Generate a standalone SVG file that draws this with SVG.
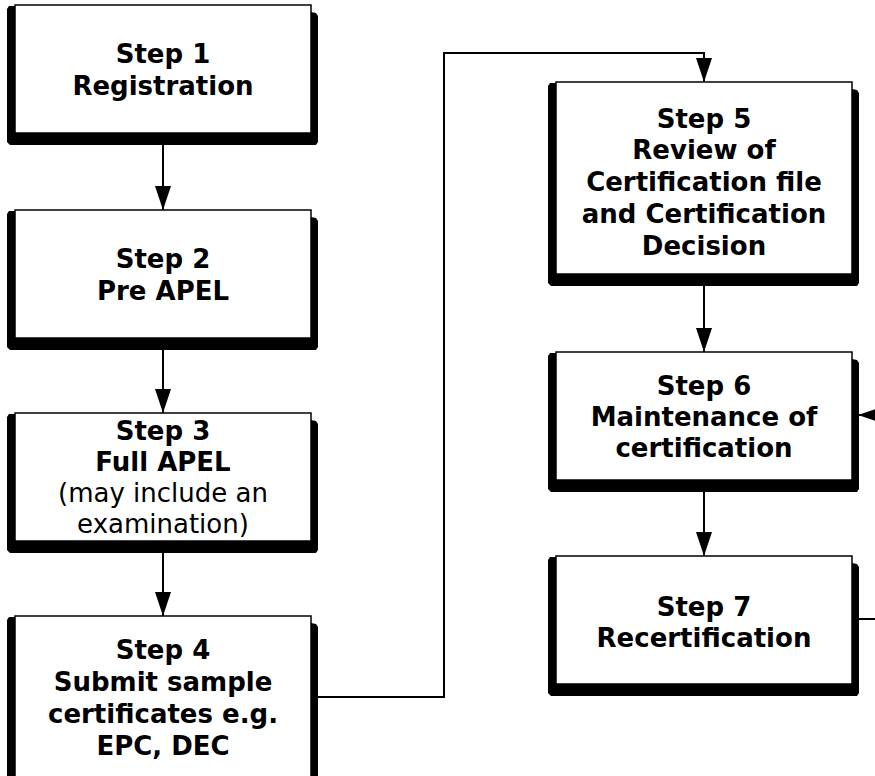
<svg xmlns="http://www.w3.org/2000/svg" width="875" height="776" viewBox="0 0 875 776">
<style>
.shadow{fill:#000}
.box{fill:#fff;stroke:#000;stroke-width:1.5}
.t{font-family:"DejaVu Sans","Verdana",sans-serif;font-size:26px;text-anchor:middle;fill:#000}
.b{font-weight:bold}
.conn{fill:none;stroke:#000;stroke-width:2}
</style>
<defs>
<marker id="arr" markerUnits="userSpaceOnUse" markerWidth="24" markerHeight="16" viewBox="0 0 24 16" refX="24" refY="8" orient="auto">
<path d="M0,0 L24,8 L0,16 z" fill="#000"/>
</marker>
</defs>
<rect width="875" height="776" fill="#fff"/>
<g id="connectors">
<path class="conn" d="M163,140 V210" marker-end="url(#arr)"/>
<path class="conn" d="M163,345 V413" marker-end="url(#arr)"/>
<path class="conn" d="M163,548 V616" marker-end="url(#arr)"/>
<path class="conn" d="M311,697 H444 V53 H704 V82" marker-end="url(#arr)"/>
<path class="conn" d="M704,281 V352" marker-end="url(#arr)"/>
<path class="conn" d="M704,487 V556" marker-end="url(#arr)"/>
<path class="conn" d="M852,619 H895 V415 H858" marker-end="url(#arr)"/>
</g>
<g id="step1">
<polygon class="shadow" points="9,6 311,6 311,12 316,13 318,16 318,142 316,145 10,145 7,142 7,9"/>
<rect class="box" x="15" y="5" width="296" height="128"/>
<text class="t b" x="163" y="62.5">Step 1</text>
<text class="t b" x="163" y="94.5">Registration</text>
</g>
<g id="step2">
<polygon class="shadow" points="9,211 311,211 311,217 316,218 318,221 318,347 316,350 10,350 7,347 7,214"/>
<rect class="box" x="15" y="210" width="296" height="128"/>
<text class="t b" x="163" y="267.5">Step 2</text>
<text class="t b" x="163" y="299.5">Pre APEL</text>
</g>
<g id="step3">
<polygon class="shadow" points="9,414 311,414 311,420 316,421 318,424 318,550 316,553 10,553 7,550 7,417"/>
<rect class="box" x="15" y="413" width="296" height="128"/>
<text class="t b" x="163" y="440">Step 3</text>
<text class="t b" x="163" y="471">Full APEL</text>
<text class="t" x="163" y="502">(may include an</text>
<text class="t" x="163" y="533">examination)</text>
</g>
<g id="step4">
<polygon class="shadow" points="9,617 311,617 311,623 316,624 318,627 318,820 7,820 7,620"/>
<rect class="box" x="15" y="616" width="296" height="200"/>
<text class="t b" x="163" y="658.5">Step 4</text>
<text class="t b" x="163" y="690.5">Submit sample</text>
<text class="t b" x="163" y="722.5">certificates e.g.</text>
<text class="t b" x="163" y="754.5">EPC, DEC</text>
</g>
<g id="step5">
<polygon class="shadow" points="550,83 852,83 852,89 857,90 859,93 859,283 857,286 551,286 548,283 548,86"/>
<rect class="box" x="556" y="82" width="296" height="192"/>
<text class="t b" x="704" y="127.5">Step 5</text>
<text class="t b" x="704" y="159">Review of</text>
<text class="t b" x="704" y="191">Certification file</text>
<text class="t b" x="704" y="222.5">and Certification</text>
<text class="t b" x="704" y="254.5">Decision</text>
</g>
<g id="step6">
<polygon class="shadow" points="550,353 852,353 852,359 857,360 859,363 859,489 857,492 551,492 548,489 548,356"/>
<rect class="box" x="556" y="352" width="296" height="128"/>
<text class="t b" x="704" y="394.5">Step 6</text>
<text class="t b" x="704" y="425.5">Maintenance of</text>
<text class="t b" x="704" y="456.5">certification</text>
</g>
<g id="step7">
<polygon class="shadow" points="550,557 852,557 852,563 857,564 859,567 859,693 857,696 551,696 548,693 548,560"/>
<rect class="box" x="556" y="556" width="296" height="128"/>
<text class="t b" x="704" y="615.5">Step 7</text>
<text class="t b" x="704" y="646.5">Recertification</text>
</g>
</svg>
